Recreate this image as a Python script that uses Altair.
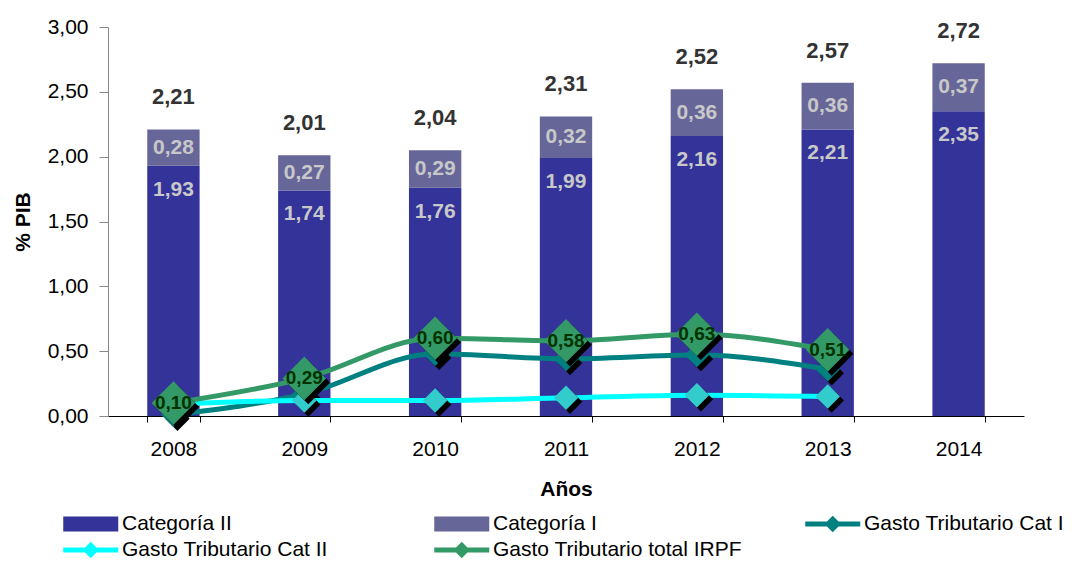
import altair as alt
import pandas as pd

years = ["2008", "2009", "2010", "2011", "2012", "2013", "2014"]
cat2 = [1.93, 1.74, 1.76, 1.99, 2.16, 2.21, 2.35]
cat1 = [0.28, 0.27, 0.29, 0.32, 0.36, 0.36, 0.37]
totals = [2.21, 2.01, 2.04, 2.31, 2.52, 2.57, 2.72]

line_years = ["2008", "2009", "2010", "2011", "2012", "2013"]
gt_cat1 = [0.01, 0.17, 0.48, 0.44, 0.47, 0.36]
gt_cat2 = [0.09, 0.12, 0.12, 0.14, 0.16, 0.15]
gt_total = [0.10, 0.29, 0.60, 0.58, 0.63, 0.51]

# legend order (filled column by column: 2 rows x 3 columns)
series = ["Categoría II", "Gasto Tributario Cat II", "Categoría I",
          "Gasto Tributario total IRPF", "Gasto Tributario Cat I"]
series_colors = ["#333399", "#00FFFF", "#666699", "#339966", "#008080"]

RECT = "M-1,-0.55H3V0.55H-1Z"
LINE_D = "M-1,-0.18H3V0.18H-1Z M1,-0.6L1.6,0L1,0.6L0.4,0Z"
series_shapes = [RECT, LINE_D, RECT, LINE_D, LINE_D]

FONT = "Liberation Sans"


def lab(v):
    return f"{v:.2f}".replace(".", ",")


bars = pd.DataFrame({
    "year": years,
    "cat2": cat2,
    "cat1": cat1,
    "total": totals,
})
bars["base"] = 0.0
bars["top2"] = bars["cat2"]
bars["top1"] = bars["cat2"] + bars["cat1"]
bars["mid1"] = bars["cat2"] + bars["cat1"] / 2
bars["lab2"] = [lab(v) for v in cat2]
bars["lab1"] = [lab(v) for v in cat1]
bars["labt"] = [lab(v) for v in totals]

lines = pd.DataFrame({
    "year": line_years,
    "gt1": gt_cat1,
    "gt2": gt_cat2,
    "gtt": gt_total,
})
lines["labt"] = [lab(v) for v in gt_total]

x_enc = alt.X(
    "year:N",
    scale=alt.Scale(domain=years, paddingInner=0.6, paddingOuter=0.3),
    axis=alt.Axis(
        title="Años", labelAngle=0, tickBand="extent", labelFontSize=21,
        labelFont=FONT, titleFont=FONT, titleFontSize=21, titleFontWeight="bold",
        tickSize=6, labelPadding=16, titlePadding=19, domainColor="#000000",
        tickColor="#000000", labelColor="#000000", titleColor="#000000",
        grid=False, domainWidth=1.2,
    ),
)

y_scale = alt.Scale(domain=[0, 3], nice=False, zero=True)
y_axis = alt.Axis(
    title="% PIB", values=[0, 0.5, 1, 1.5, 2, 2.5, 3],
    labelExpr="replace(format(datum.value, '.2f'), '.', ',')",
    labelFontSize=21, labelFont=FONT, titleFont=FONT, titleFontSize=21,
    titleFontWeight="bold", tickSize=9, labelPadding=11, titlePadding=14,
    domainColor="#888888", tickColor="#888888", labelColor="#000000",
    titleColor="#000000", grid=False,
)

base_b = alt.Chart(bars)

bar2 = base_b.mark_bar(color="#333399").encode(
    x=x_enc, y=alt.Y("base:Q", scale=y_scale, axis=y_axis), y2="top2:Q")
bar1 = base_b.mark_bar(color="#666699").encode(
    x=x_enc, y=alt.Y("top2:Q", scale=y_scale, axis=y_axis), y2="top1:Q")

t2 = base_b.mark_text(font=FONT, fontSize=21, fontWeight="bold", color="#C8C8C8",
                      baseline="middle", dy=24).encode(
    x=x_enc, y=alt.Y("top2:Q", scale=y_scale), text="lab2:N")
t1 = base_b.mark_text(font=FONT, fontSize=21, fontWeight="bold", color="#C8C8C8",
                      baseline="middle").encode(
    x=x_enc, y=alt.Y("mid1:Q", scale=y_scale), text="lab1:N")
tt = base_b.mark_text(font=FONT, fontSize=22, fontWeight="bold", color="#333333",
                      baseline="middle", dy=-32).encode(
    x=x_enc, y=alt.Y("top1:Q", scale=y_scale), text="labt:N")

base_l = alt.Chart(lines)


def series_layers(field, line_color, marker_color, msize):
    ln = base_l.mark_line(color=line_color, strokeWidth=5, interpolate="monotone").encode(
        x=x_enc, y=alt.Y(f"{field}:Q", scale=y_scale))
    sh = base_l.mark_point(shape="diamond", filled=True, color="#000000", opacity=1,
                           size=msize, strokeWidth=0, xOffset=4, yOffset=4).encode(
        x=x_enc, y=alt.Y(f"{field}:Q", scale=y_scale))
    mk = base_l.mark_point(shape="diamond", filled=True, color=marker_color, opacity=1,
                           size=msize, strokeWidth=0).encode(
        x=x_enc, y=alt.Y(f"{field}:Q", scale=y_scale))
    return [ln, sh, mk]


l1 = series_layers("gt1", "#008080", "#008080", 600)
l2 = series_layers("gt2", "#00FFFF", "#33CCCC", 600)
l3 = series_layers("gtt", "#339966", "#339966", 1900)

tl = base_l.mark_text(font=FONT, fontSize=19, fontWeight="bold", color="#003300",
                      baseline="middle").encode(
    x=x_enc, y=alt.Y("gtt:Q", scale=y_scale), text="labt:N")

legend = alt.Legend(
    title=None, orient="none", legendX=-45, legendY=483, columns=3,
    gridAlign="all", columnPadding=63, rowPadding=2, symbolSize=756,
    labelOffset=31, labelFontSize=21, labelFont=FONT, labelColor="#000000",
    padding=0, symbolStrokeWidth=0, labelLimit=400, symbolOpacity=1,
)

leg = alt.Chart(pd.DataFrame({"serie": series})).mark_point(
    filled=True, opacity=1).encode(
    color=alt.Color("serie:N", scale=alt.Scale(domain=series, range=series_colors),
                    legend=legend),
    shape=alt.Shape("serie:N", scale=alt.Scale(domain=series, range=series_shapes),
                    legend=legend),
).transform_filter("datum.serie == 'none'")

chart = alt.layer(
    bar2, bar1, t2, t1, tt, *l1, *l2, *l3, tl, leg
).properties(
    width=916, height=389,
    autosize=alt.AutoSizeParams(type="none"),
    padding={"left": 100, "top": 19, "right": 40, "bottom": 145},
).configure(font=FONT).configure_view(stroke=None)

chart.save("out.html", embed_options={"renderer": "svg", "actions": False})
